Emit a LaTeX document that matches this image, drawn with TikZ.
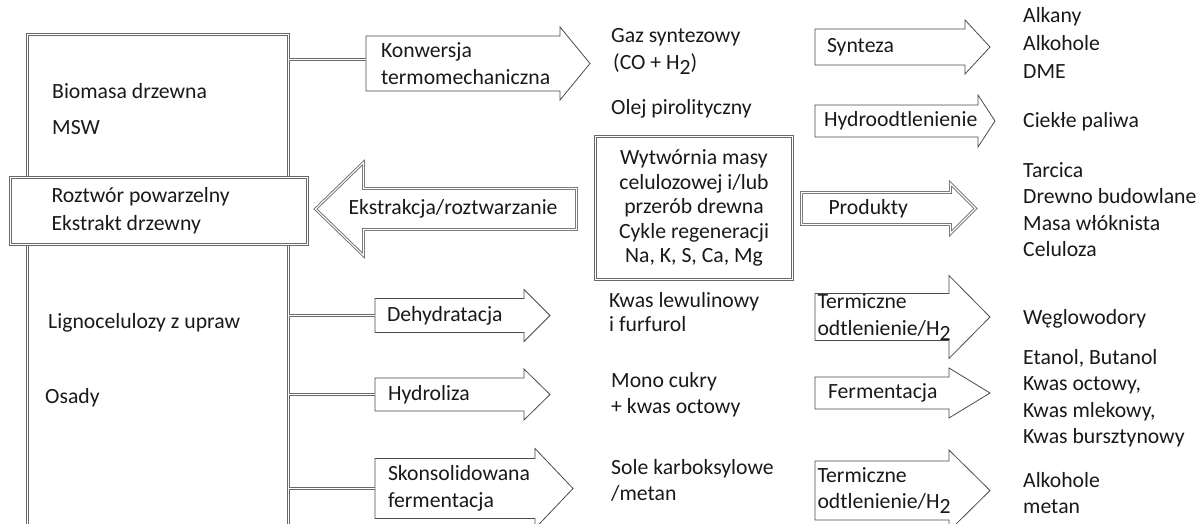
\documentclass[tikz,border=0pt]{standalone}
\usepackage{fontspec}
\setmainfont{Carlito}
\usetikzlibrary{calc}
\definecolor{szary}{RGB}{105,105,105}
\definecolor{ciemny}{RGB}{75,75,75}
\definecolor{tekst}{RGB}{25,25,25}
\hyphenpenalty=10000
\exhyphenpenalty=10000
\newcommand{\Hdwa}{H\raisebox{-0.25em}{2}}
% grot w prawo / w lewo wokol wezla-ciala
\newcommand{\strzalkaP}[4][obrys]{%
  \draw[#1] (#2.south west) -- (#2.north west) -- (#2.north east) -- ++(0,#3pt)
    -- ($(#2.east)+(#4pt,0pt)$) -- ($(#2.south east)+(0pt,-#3pt)$) -- (#2.south east) -- cycle;}
\newcommand{\strzalkaL}[4][obrys]{%
  \draw[#1] (#2.south east) -- (#2.north east) -- (#2.north west) -- ++(0,#3pt)
    -- ($(#2.west)+(-#4pt,0pt)$) -- ($(#2.south west)+(0pt,-#3pt)$) -- (#2.south west) -- cycle;}

\begin{document}
\begin{tikzpicture}[x=1pt,y=-1pt,
font=\fontsize{21.7}{26.5}\selectfont,text=tekst,
ramka/.style={draw=szary,double,double distance=1.1pt,line width=0.9pt},
obrys/.style={draw=ciemny,line width=0.8pt},
cialo/.style={anchor=west,align=flush left,inner ysep=0pt,outer sep=0pt},
opis/.style={anchor=base west,align=flush left,inner sep=0pt},
lacznik/.style={ramka}
]
\useasboundingbox (0,0) rectangle (1203,524);

% zrodla
\coordinate (lewa) at (27.5,524);
\coordinate (prawa) at (288.5,524);
\draw[ramka] (lewa) |- (288.5,34.5) -- (prawa);
\node[opis] (biomasa) at (52,99) {Biomasa drzewna};
\node[opis] (msw) at (52,135) {MSW};
\node[opis] (ligno) at (48,328) {Lignocelulozy z upraw};
\node[opis] (osady) at (45,403) {Osady};
\node[ramka,fill=white,anchor=north west,outer sep=0pt,minimum width=297pt,minimum height=67pt,
  inner xsep=41pt,text width=215pt,align=flush left] (roztwor) at (10.5,177.5) {Roztwór powarzelny\\[1.5pt]Ekstrakt drzewny};

% procesy
\node[cialo,text width=164pt,inner xsep=15pt,minimum height=55pt] (konw) at (366,63.5) {Konwersja\\[0.5pt]termomechaniczna};
\strzalkaP{konw}{9}{30}
\node[cialo,anchor=east,text width=213pt,inner xsep=0pt,minimum height=41pt] (ekstr) at (576.5,209) {\hspace*{-15pt}Ekstrakcja/roztwarzanie};
\strzalkaL[ramka]{ekstr}{26}{48}
\node[cialo,text width=125pt,inner xsep=12pt,minimum height=34pt] (dehyd) at (375,315.5) {Dehydratacja};
\strzalkaP{dehyd}{9}{26}
\node[cialo,text width=123pt,inner xsep=13pt,minimum height=33pt] (hydrol) at (375,394.5) {Hydroliza};
\strzalkaP{hydrol}{9}{26}
\node[cialo,text width=134pt,inner xsep=13pt,minimum height=60pt] (skons) at (375,488.5) {Skonsolidowana\\fermentacja};
\strzalkaP{skons}{10}{38}

\coordinate (konwwej) at ([yshift=4pt]konw.west);
\draw[lacznik] (prawa |- konwwej) -- (konwwej);
\draw[lacznik] (prawa |- dehyd.west) -- (dehyd.west);
\draw[lacznik] (prawa |- hydrol.west) -- (hydrol.west);
\draw[lacznik] (prawa |- skons.west) -- (skons.west);

% produkty posrednie
\node[opis] (gaz) at (611,69.5) {Gaz syntezowy\\\hspace*{2pt}(CO + \Hdwa)};
\node[opis] (olej) at (611,115) {Olej pirolityczny};
\node[ramka,fill=white,anchor=north west,outer sep=0pt,minimum width=197pt,minimum height=143pt,
  align=center,inner sep=0pt] (wytw) at (595.5,136.5)
  {Wytwórnia masy\\[-2pt]celulozowej i/lub\\[-2pt]przerób drewna\\[-2pt]Cykle regeneracji\\[-2pt]Na, K, S, Ca, Mg};
\node[opis] (kwaslew) at (609,331) {Kwas lewulinowy\\[-2.5pt]i furfurol};
\node[opis] (mono) at (611,413.5) {Mono cukry\\+ kwas octowy};
\node[opis] (sole) at (611,500.5) {Sole karboksylowe\\/metan};

% druga kolumna procesow
\node[cialo,text width=126pt,inner xsep=12pt,minimum height=36pt] (synteza) at (815,47) {Synteza};
\strzalkaP{synteza}{9}{25}
\node[cialo,text width=145pt,inner xsep=9pt,minimum height=32pt] (hydroodt) at (815,121) {Hydroodtlenienie};
\strzalkaP{hydroodt}{10}{17}
\node[cialo,text width=95pt,inner xsep=27pt,minimum height=32pt] (produkty) at (801.5,208.5) {Produkty};
\strzalkaP[ramka]{produkty}{9}{25}
\node[cialo,text width=129pt,inner xsep=2.5pt,minimum height=42pt] (termA) at (815,317) {Termiczne\\odtlenienie/\Hdwa};
\strzalkaP{termA}{18}{41}
\node[cialo,text width=108pt,inner xsep=13pt,minimum height=32pt] (ferm) at (815,393) {Fermentacja};
\strzalkaP{ferm}{9}{41}
\node[cialo,text width=129pt,inner xsep=2.5pt,minimum height=59pt] (termB) at (815,490.5) {Termiczne\\odtlenienie/\Hdwa};
\strzalkaP{termB}{11}{41}

% produkty koncowe
\node[opis] (alkany) at (1023,79) {Alkany\\[1.5pt]Alkohole\\[1.5pt]DME};
\node[opis] (ciekle) at (1023,128) {Ciekłe paliwa};
\node[opis] (tarcica) at (1023,256.5) {Tarcica\\Drewno budowlane\\Masa włóknista\\Celuloza};
\node[opis] (weglo) at (1023,324) {Węglowodory};
\node[opis] (etanol) at (1023,443.5) {Etanol, Butanol\\Kwas octowy,\\Kwas mlekowy,\\Kwas bursztynowy};
\node[opis] (alkohole) at (1023,513.5) {Alkohole\\metan};
\end{tikzpicture}
\end{document}
